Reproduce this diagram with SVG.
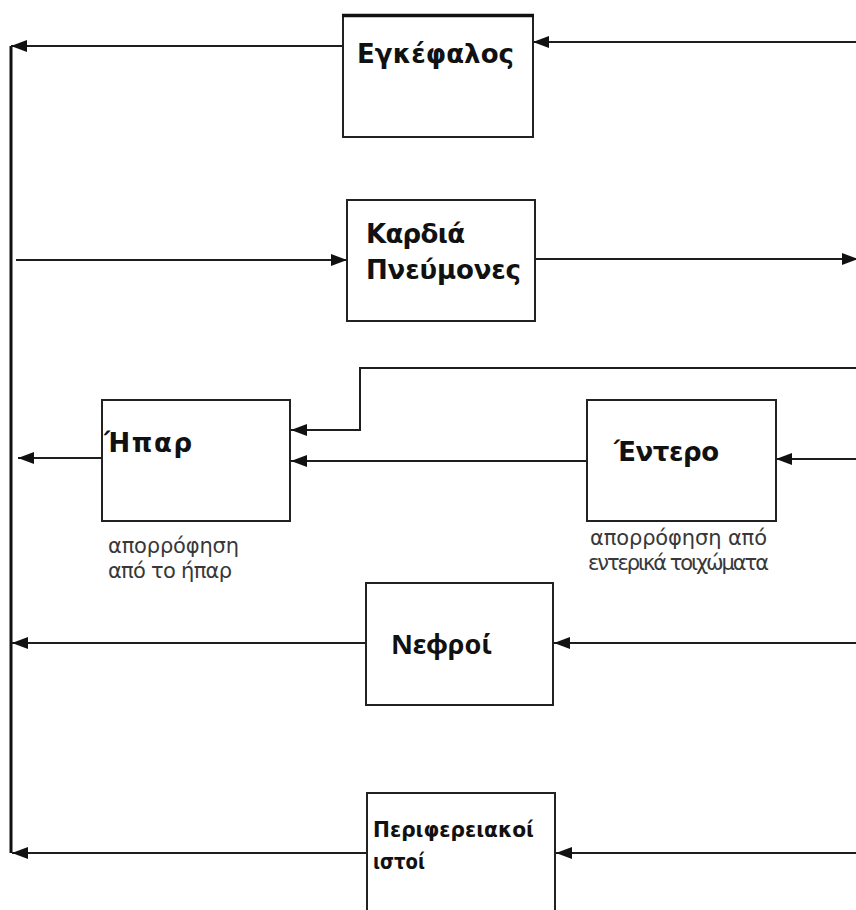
<svg xmlns="http://www.w3.org/2000/svg" width="856" height="910" viewBox="0 0 856 910">
  <style>
    .box { fill: #ffffff; stroke: #222222; stroke-width: 2; }
    .wire { fill: none; stroke: #1e1e1e; stroke-width: 2; }
    .rail { fill: none; stroke: #111111; stroke-width: 3; }
    .title { font-family: "DejaVu Sans", "Liberation Sans", sans-serif; font-weight: bold; font-size: 26px; fill: #111111; }
    .title2 { font-family: "Noto Sans", "DejaVu Sans", sans-serif; font-weight: bold; font-size: 27px; fill: #111111; }
    .title3 { font-family: "DejaVu Sans", "Liberation Sans", sans-serif; font-weight: bold; font-size: 21px; fill: #111111; }
    .note { font-family: "DejaVu Sans", "Liberation Sans", sans-serif; font-size: 21px; fill: #383838; }
  </style>
  <defs>
    <marker id="arrow" viewBox="0 0 16 12" refX="16" refY="6" markerWidth="16" markerHeight="12" orient="auto" markerUnits="userSpaceOnUse">
      <path d="M0,0 L16,6 L0,12 Z" fill="#111111"/>
    </marker>
  </defs>
  <rect width="856" height="910" fill="#ffffff"/>

  <!-- flow lines between organs and the return rail on the left -->
  <g id="connectors">
    <path class="rail" d="M11,46 V853"/>
    <line class="wire" x1="856" y1="42" x2="533" y2="42" marker-end="url(#arrow)"/>
    <line class="wire" x1="343" y1="46" x2="11" y2="46" marker-end="url(#arrow)"/>
    <line class="wire" x1="16" y1="260" x2="347" y2="260" marker-end="url(#arrow)"/>
    <line class="wire" x1="535" y1="259" x2="858" y2="259" marker-end="url(#arrow)"/>
    <path class="wire" d="M856,368 H360 V430 H291" marker-end="url(#arrow)"/>
    <line class="wire" x1="587" y1="461" x2="291" y2="461" marker-end="url(#arrow)"/>
    <line class="wire" x1="102" y1="458" x2="18" y2="458" marker-end="url(#arrow)"/>
    <line class="wire" x1="856" y1="459" x2="776" y2="459" marker-end="url(#arrow)"/>
    <line class="wire" x1="856" y1="643" x2="554" y2="643" marker-end="url(#arrow)"/>
    <line class="wire" x1="366" y1="643" x2="12" y2="643" marker-end="url(#arrow)"/>
    <line class="wire" x1="856" y1="853" x2="556" y2="853" marker-end="url(#arrow)"/>
    <line class="wire" x1="367" y1="853" x2="12" y2="853" marker-end="url(#arrow)"/>
  </g>

  <g id="brain">
    <rect class="box" x="343" y="15" width="190" height="122"/>
    <line x1="342" y1="15.5" x2="534" y2="15.5" stroke="#111111" stroke-width="3.5"/>
    <text class="title" x="357" y="63" textLength="157">Εγκέφαλος</text>
  </g>

  <g id="heart-lungs">
    <rect class="box" x="347" y="200" width="188" height="121"/>
    <text class="title" x="366" y="243" textLength="99">Καρδιά</text>
    <text class="title" x="366" y="279" textLength="155">Πνεύμονες</text>
  </g>

  <g id="liver">
    <rect class="box" x="102" y="400" width="188" height="121"/>
    <text class="title" x="104" y="452" textLength="88">Ήπαρ</text>
    <text class="note" x="108" y="553" textLength="131">απορρόφηση</text>
    <text class="note" x="108" y="578" textLength="124">από το ήπαρ</text>
  </g>

  <g id="intestine">
    <rect class="box" x="587" y="400" width="189" height="121"/>
    <text class="title" x="614" y="461" textLength="105">Έντερο</text>
    <text class="note" x="590" y="545" textLength="177">απορρόφηση από</text>
    <text class="note" x="588" y="570" textLength="181">εντερικά τοιχώματα</text>
  </g>

  <g id="kidneys">
    <rect class="box" x="366" y="583" width="187" height="122"/>
    <text class="title2" x="391" y="654" textLength="101">Νεφροί</text>
  </g>

  <g id="peripheral-tissues">
    <rect class="box" x="367" y="793" width="188" height="130"/>
    <text class="title3" x="373" y="837" textLength="161" lengthAdjust="spacingAndGlyphs">Περιφερειακοί</text>
    <text class="title3" x="373" y="869" textLength="52" lengthAdjust="spacingAndGlyphs">ιστοί</text>
  </g>
</svg>
